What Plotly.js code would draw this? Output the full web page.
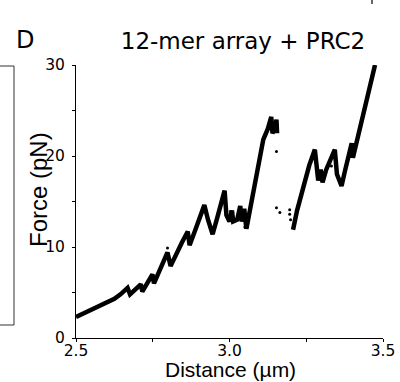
<!DOCTYPE html>
<html>
<head>
<meta charset="utf-8">
<script src="https://cdn.plot.ly/plotly-3.0.1.min.js"></script>
<style>html,body{margin:0;padding:0;background:#fff;}#chart{width:400px;height:382px;}</style>
</head>
<body>
<div id="chart"></div>
<script>
// Force-extension curve, first segment (before the large rupture gap)
const distA = [2.500,2.520,2.540,2.560,2.580,2.600,2.625,2.645,2.668,2.676,2.690,2.711,2.716,2.730,2.749,2.754,2.770,2.785,2.798,2.808,2.825,2.845,2.864,2.870,2.890,2.905,2.918,2.930,2.945,2.960,2.972,2.984,2.990,3.000,3.008,3.012,3.025,3.035,3.040,3.048,3.055,3.070,3.085,3.100,3.110,3.125,3.136,3.140,3.147,3.153,3.155];
const forceA = [2.3,2.6,3.0,3.3,3.6,3.9,4.3,4.8,5.5,4.8,5.2,5.9,5.1,5.9,7.0,6.0,7.2,8.3,9.4,7.9,9.2,10.5,11.7,10.2,12.0,13.5,14.6,13.0,11.4,13.2,14.8,16.2,13.5,12.8,14.0,12.8,13.0,14.5,12.8,14.2,12.0,14.7,17.5,20.3,21.8,23.0,24.3,22.5,23.0,24.0,22.5];
// Second segment (after the rupture)
const distB = [3.207,3.220,3.240,3.260,3.278,3.289,3.297,3.303,3.315,3.330,3.343,3.350,3.365,3.375,3.385,3.398,3.402,3.412,3.425,3.440,3.452,3.463,3.474];
const forceB = [11.9,14.0,16.5,19.0,20.7,17.3,18.5,17.1,18.5,19.8,20.7,18.0,16.7,18.2,19.8,21.4,19.8,21.2,23.1,25.0,26.7,28.3,30.0];
// Isolated data points
const distDots = [2.798,3.153,3.153,3.164,3.196,3.196,3.199,3.332,3.050,3.003];
const forceDots = [9.9,20.5,14.3,13.8,14.1,13.6,13.0,18.9,12.2,13.9];

const xTickVals = [2.5,3.0,3.5];
const xTickText = ['2.5','3.0','3.5'];
const yTickVals = [0,10,20,30];
const yTickText = ['0','10','20','30'];

const lineStyle = {color:'#000', width:4.5};
const traces = [
  {x:distA, y:forceA, mode:'lines', line:lineStyle, hoverinfo:'skip', showlegend:false},
  {x:distB, y:forceB, mode:'lines', line:lineStyle, hoverinfo:'skip', showlegend:false},
  {x:distDots, y:forceDots, mode:'markers', marker:{color:'#000', size:3}, hoverinfo:'skip', showlegend:false}
];

const tickFont = {family:'DejaVu Sans', size:15.5, color:'#000'};
const layout = {
  width:400, height:382,
  margin:{l:76, r:17, t:65, b:44},
  paper_bgcolor:'#fff', plot_bgcolor:'#fff',
  showlegend:false,
  title:{text:'12-mer array + PRC2', font:{family:'DejaVu Sans', size:23, color:'#000'},
         x:0.544, xref:'paper', xanchor:'center', y:0.893, yref:'container', yanchor:'middle'},
  xaxis:{range:[2.5,3.5], tickvals:xTickVals, ticktext:xTickText, ticks:'outside', ticklen:3,
         tickcolor:'#000', tickwidth:1, showline:true, linecolor:'#000', linewidth:1,
         showgrid:false, zeroline:false, tickfont:tickFont, ticklabelstandoff:-5,
         minor:{dtick:0.25, tick0:2.5, ticks:'outside', ticklen:3, tickcolor:'#000', tickwidth:1, showgrid:false}},
  yaxis:{range:[0,30], tickvals:yTickVals, ticktext:yTickText, ticks:'outside', ticklen:3,
         tickcolor:'#000', tickwidth:1, showline:true, linecolor:'#000', linewidth:1,
         showgrid:false, zeroline:false, tickfont:tickFont, ticklabelstandoff:4,
         minor:{dtick:5, tick0:0, ticks:'outside', ticklen:3, tickcolor:'#000', tickwidth:1, showgrid:false}},
  annotations:[
    {text:'Distance (µm)', xref:'paper', yref:'paper', x:(230-76)/307, y:(338-369)/273,
     xanchor:'center', yanchor:'middle', showarrow:false, font:{family:'Liberation Sans', size:21, color:'#000'}},
    {text:'Force (pN)', textangle:-90, xref:'paper', yref:'paper', x:(38-76)/307, y:(338-190)/273,
     xanchor:'center', yanchor:'middle', showarrow:false, font:{family:'Liberation Sans', size:24, color:'#000'}},
    {text:'D', xref:'paper', yref:'paper', x:(14-76)/307, y:(338-40)/273,
     xanchor:'left', yanchor:'middle', showarrow:false, font:{family:'DejaVu Sans', size:24, color:'#000'}}
  ],
  shapes:[
    {type:'rect', xref:'paper', yref:'paper', x0:(-10-76)/307, x1:(14-76)/307, y0:(338-325)/273, y1:(338-66)/273,
     line:{color:'#333', width:1}, fillcolor:'rgba(0,0,0,0)'},
    {type:'line', xref:'paper', yref:'paper', x0:(372-76)/307, x1:(372-76)/307, y0:(338-0)/273, y1:(338-4)/273,
     line:{color:'#333', width:1.5}}
  ]
};
Plotly.newPlot('chart', traces, layout, {displayModeBar:false, staticPlot:true});
</script>
</body>
</html>
